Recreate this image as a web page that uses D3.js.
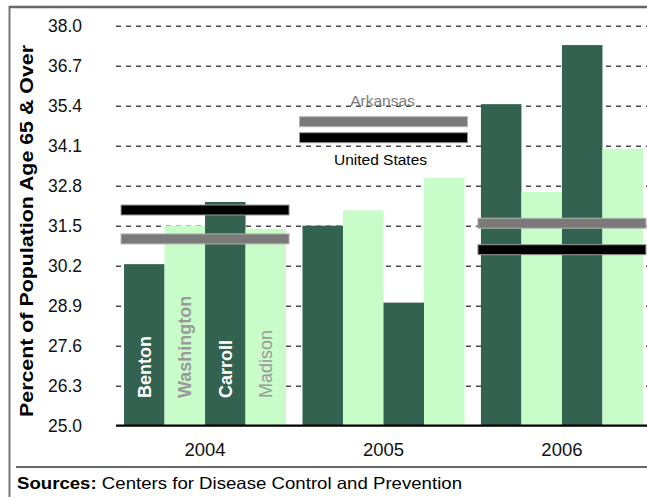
<!DOCTYPE html>
<html>
<head>
<meta charset="utf-8">
<script src="https://cdn.jsdelivr.net/npm/d3@7/dist/d3.min.js"></script>
<style>
  html, body { margin: 0; padding: 0; background: #fff; }
  svg { display: block; }
  text { font-family: "Liberation Sans", Arial, Helvetica, sans-serif; }
</style>
</head>
<body>
<svg id="chart" width="647" height="497"></svg>
<script>
// ---- data ----
const years = ["2004", "2005", "2006"];
const counties = ["Benton", "Washington", "Carroll", "Madison"];
const benton = [30.25, 31.5, 35.45];
const washington = [31.5, 32.0, 32.6];
const carroll = [32.27, 29.0, 37.37];
const madison = [31.4, 33.05, 34.0];
const arkansas = [31.07, 34.88, 31.58];
const unitedStates = [32.01, 34.36, 30.72];
const yTicks = [25.0, 26.3, 27.6, 28.9, 30.2, 31.5, 32.8, 34.1, 35.4, 36.7, 38.0];
const yTitle = "Percent of Population Age 65 & Over";
const sourceLabel = "Sources:";
const sourceText = " Centers for Disease Control and Prevention";

const countyValues = [benton, washington, carroll, madison];

// ---- layout ----
const W = 647, H = 497;
const plotLeft = 116, plotRight = 647;
const svg = d3.select("#chart");

const y = d3.scaleLinear().domain([25, 38]).range([425.7, 25.7]);
const x0 = d3.scaleBand().domain(years).range([plotLeft, 651]).paddingInner(0.092).paddingOuter(0.045);
const x1 = d3.scaleBand().domain(counties).range([0, x0.bandwidth()]).padding(0);

const dark = "#336350", light = "#c8fcc8";
const countyFill = { Benton: dark, Washington: light, Carroll: dark, Madison: light };
const labelFill = { Benton: "#ffffff", Washington: "#9a9a9a", Carroll: "#ffffff", Madison: "#9a9a9a" };
const labelWeight = { Benton: "bold", Washington: "bold", Carroll: "bold", Madison: "normal" };

// frame
svg.append("line").attr("x1", 9.5).attr("x2", 9.5).attr("y1", 6).attr("y2", H).attr("stroke", "#777").attr("stroke-width", 2);
svg.append("line").attr("x1", 9).attr("x2", W).attr("y1", 7).attr("y2", 7).attr("stroke", "#666").attr("stroke-width", 2.5);

// gridlines
const grid = svg.append("g").attr("transform", `translate(${plotLeft},0)`)
  .call(d3.axisRight(y).tickValues(yTicks.filter(t => t > 25)).tickSize(plotRight - plotLeft).tickFormat(""));
grid.select(".domain").remove();
grid.selectAll(".tick line").attr("stroke", "#4a4a4a").attr("stroke-width", 1.5).attr("stroke-dasharray", "5,5");

// y tick labels
const yAxis = svg.append("g").attr("transform", `translate(${plotLeft},0)`)
  .call(d3.axisLeft(y).tickValues(yTicks).tickSize(0).tickPadding(34).tickFormat(d3.format(".1f")));
yAxis.select(".domain").remove();
yAxis.selectAll("text").attr("font-size", 17.5).attr("fill", "#111")
  .attr("font-family", "'Liberation Sans', Arial, sans-serif");

// bars
const groups = svg.append("g").selectAll("g").data(years).join("g")
  .attr("transform", d => `translate(${x0(d)},0)`);
groups.selectAll("rect").data((yr, i) => counties.map((c, j) => ({ c, v: countyValues[j][i], yr })))
  .join("rect")
  .attr("x", d => x1(d.c)).attr("width", x1.bandwidth())
  .attr("y", d => y(d.v)).attr("height", d => y(25) - y(d.v))
  .attr("fill", d => countyFill[d.c]);

// county labels inside 2004 bars
const g04 = svg.append("g").attr("transform", `translate(${x0(years[0])},0)`);
g04.selectAll("text").data(counties).join("text")
  .attr("transform", d => `translate(${x1(d) + x1.bandwidth() / 2},398) rotate(-90)`)
  .attr("dy", "0.35em")
  .attr("font-size", 18)
  .attr("font-weight", d => labelWeight[d])
  .attr("fill", d => labelFill[d])
  .text(d => d);

// x axis line
const xAxis = svg.append("g").attr("transform", `translate(0,${y(25)})`)
  .call(d3.axisBottom(x0).tickSize(0).tickPadding(17));
xAxis.select(".domain").attr("d", `M${plotLeft},0H${plotRight}`).attr("stroke", "#000").attr("stroke-width", 2.2);
xAxis.selectAll("text").attr("font-size", 18.5).attr("fill", "#111")
  .attr("font-family", "'Liberation Sans', Arial, sans-serif");

// reference lines
function refLines(vals, fill, stroke) {
  svg.append("g").selectAll("rect").data(years).join("rect")
    .attr("x", (d) => x0(d) - 3)
    .attr("width", x0.bandwidth() + 6)
    .attr("y", (d, i) => y(vals[i]) - 5)
    .attr("height", 10)
    .attr("fill", fill)
    .attr("stroke", stroke).attr("stroke-width", 1);
}
refLines(arkansas, "#7a7a7a", "#b5b5b5");
refLines(unitedStates, "#000", "#9a9a9a");

// legend labels at 2005
const c05 = x0(years[1]) + x0.bandwidth() / 2;
svg.append("text").attr("x", c05 - 1).attr("y", y(arkansas[1]) - 16)
  .attr("text-anchor", "middle").attr("font-size", 15.5).attr("fill", "#7a7a7a").text("Arkansas");
svg.append("text").attr("x", c05 - 3).attr("y", y(unitedStates[1]) + 27)
  .attr("text-anchor", "middle").attr("font-size", 15.5).attr("fill", "#000").text("United States");

// y axis title
svg.append("text")
  .attr("transform", `translate(33,231) rotate(-90)`)
  .attr("text-anchor", "middle")
  .attr("font-size", 18).attr("font-weight", "bold").attr("fill", "#000")
  .attr("textLength", 372).attr("lengthAdjust", "spacingAndGlyphs")
  .text(yTitle);

// sources separator and text
svg.append("line").attr("x1", 16).attr("x2", W).attr("y1", 467).attr("y2", 467).attr("stroke", "#333").attr("stroke-width", 1.6);
const src = svg.append("text").attr("x", 17).attr("y", 489).attr("font-size", 16.5).attr("fill", "#000")
  .attr("textLength", 445).attr("lengthAdjust", "spacingAndGlyphs");
src.append("tspan").attr("font-weight", "bold").text(sourceLabel);
src.append("tspan").text(sourceText);
</script>
</body>
</html>
